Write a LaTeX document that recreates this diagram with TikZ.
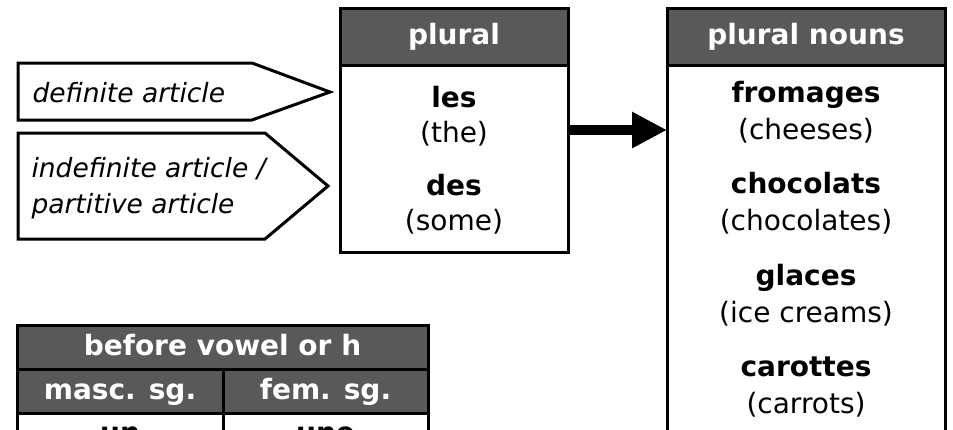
\documentclass[tikz,border=0pt]{standalone}
\usepackage{fontspec}
\setmainfont{DejaVu Sans}
\usetikzlibrary{arrows.meta,positioning}
\definecolor{headgray}{HTML}{595959}

\tikzset{
    headbox/.style={draw, line width=3pt, fill=headgray, text=white, outer sep=0pt, inner sep=0pt,
        font=\fontsize{28}{34}\selectfont\bfseries, text height=21pt, text depth=5pt, minimum height=57pt},
    bodybox/.style={draw, line width=3pt, fill=white, outer sep=0pt, inner sep=0pt},
    word/.style={anchor=base, font=\fontsize{28}{34}\selectfont\bfseries},
    gloss/.style={anchor=base, font=\fontsize{28}{34}\selectfont},
    tagline/.style={draw, line width=3pt, line join=miter},
    tagtext/.style={anchor=base west, align=left, font=\fontsize{26.5}{36}\selectfont\itshape},
}

\begin{document}
\begin{tikzpicture}[x=1pt,y=-1pt]
    \useasboundingbox (0,0) rectangle (953,429);
    \clip (0,0) rectangle (953,429);

    % Define the plural box
    \node[bodybox, minimum width=228pt, minimum height=187pt, anchor=north] (plbody) at (454,65) {};
    \node[headbox, minimum width=228pt, anchor=south] (plhead) at (plbody.north) {plural};
    \node[word] (les) at (454,107) {les};
    \node[gloss] (the) at (454,142) {(the)};
    \node[word] (des) at (454,195) {des};
    \node[gloss] (some) at (454,230) {(some)};

    % Define the plural nouns box
    \node[bodybox, minimum width=278pt, minimum height=400pt, anchor=north] (nbody) at (806,65) {};
    \node[headbox, minimum width=278pt, anchor=south] (nhead) at (nbody.north) {plural nouns};
    \foreach \w/\g [count=\i] in {fromages/cheeses, chocolats/chocolates, glaces/ice creams, carottes/carrots} {
            \node[word] (w\i) at (806,{102+91.5*(\i-1)}) {\w};
            \node[gloss] (g\i) at (806,{139+91.5*(\i-1)}) {(\g)};
        }

    % Add the article tags
    \draw[tagline] (18,63) -- (252,63) -- (330,92) -- (252,120) -- (18,120) -- cycle;
    \node[tagtext] (defart) at (29,102) {definite article};
    \draw[tagline] (18,133) -- (265,133) -- (328,186) -- (265,239) -- (18,239) -- cycle;
    \node[tagtext] (indefart) at (28,213) {indefinite article /\\partitive article};

    % Define the table
    \node[headbox, minimum width=411pt, minimum height=44pt, anchor=north west] (vowel) at (17,325) {before vowel or h};
    \node[headbox, minimum width=206pt, minimum height=44pt, anchor=north west] (masc) at (vowel.south west) {masc. sg.};
    \node[headbox, minimum width=205pt, minimum height=44pt, anchor=north west] (fem) at (masc.north east) {fem. sg.};
    \node[bodybox, minimum width=206pt, minimum height=44pt, anchor=north west,
        font=\fontsize{28}{34}\selectfont\bfseries] (un) at (masc.south west) {un};
    \node[bodybox, minimum width=205pt, minimum height=44pt, anchor=north west,
        font=\fontsize{28}{34}\selectfont\bfseries] (une) at (fem.south west) {une};

    % Draw the arrow
    \draw[-{Triangle[length=35pt,width=34pt]}, line width=10pt] (plbody.east |- 0,130) -- (nbody.west |- 0,130);

\end{tikzpicture}
\end{document}
